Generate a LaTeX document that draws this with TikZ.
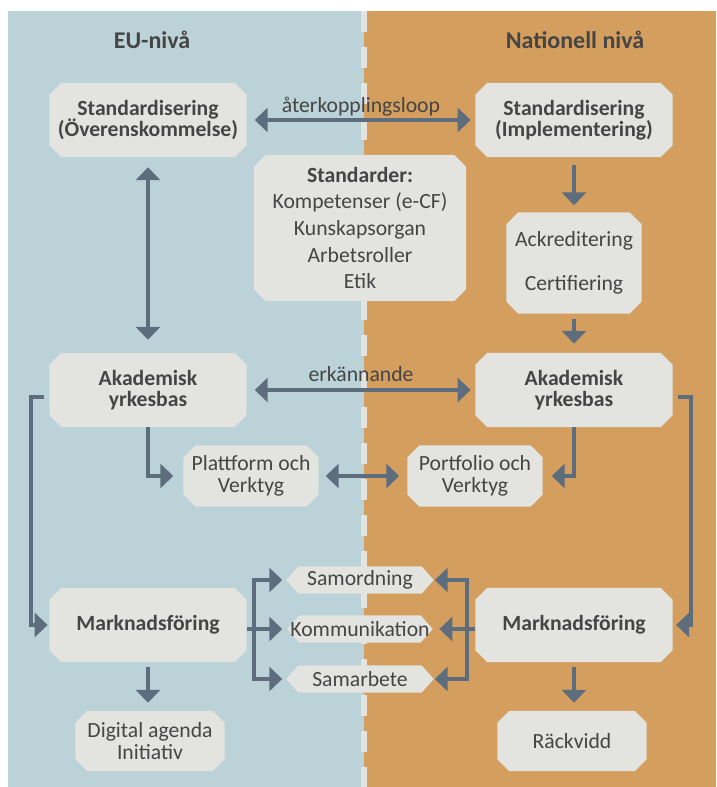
\documentclass[tikz,border=0pt]{standalone}
\usepackage{fontspec}
\setmainfont{Carlito}
\usetikzlibrary{arrows.meta,backgrounds}
\definecolor{eublue}{HTML}{BBD2D8}
\definecolor{natorange}{HTML}{D49E5F}
\definecolor{boxgray}{HTML}{E3E3DF}
\definecolor{arrowgray}{HTML}{5D6D7D}
\definecolor{txtgray}{HTML}{454545}
\begin{document}
\begin{tikzpicture}[x=0.03cm,y=-0.03cm,
 box/.style={rectangle,text=txtgray,align=center,inner sep=0pt,minimum width=5.91cm,minimum height=2.22cm,
   font=\fontsize{18.5}{18.3}\selectfont},
 bbox/.style={box,font=\fontsize{18.5}{18.3}\selectfont\bfseries},
 smallbox/.style={box,minimum width=4.05cm,minimum height=1.83cm},
 hex/.style={box,minimum width=4.41cm,minimum height=0.8cm},
 title/.style={anchor=base,text=txtgray,font=\fontsize{20.5}{24}\selectfont\bfseries},
 lbl/.style={anchor=base,text=txtgray,inner sep=0pt,font=\fontsize{18.5}{22}\selectfont},
 arr/.style={draw=arrowgray,line width=0.12cm,-{Triangle[length=0.39cm,width=0.72cm]}},
 darr/.style={arr,{Triangle[length=0.39cm,width=0.72cm]}-{Triangle[length=0.39cm,width=0.72cm]}},
 divider/.style={draw=boxgray,line width=0.18cm,dash pattern=on 0.63cm off 0.45cm}]
 \useasboundingbox (0,0) rectangle (716,787);
 \node[title] (eu) at (152,49) {EU-nivå};
 \node[title] (nat) at (575,49) {Nationell nivå};
 %
 \node[bbox] (std1) at (148,120) {Standardisering\\(Överenskommelse)};
 \node[bbox] (std2) at (574,120) {Standardisering\\(Implementering)};
 \node[box,minimum width=6.36cm,minimum height=4.38cm,font=\fontsize{18.5}{22.8}\selectfont] (stds) at (360,228)
   {\textbf{Standarder:}\\Kompetenser (e-CF)\\Kunskapsorgan\\Arbetsroller\\Etik};
 \node[box,minimum width=4.05cm,minimum height=3.03cm,font=\fontsize{18.5}{37}\selectfont] (akr) at (574,263)
   {Ackreditering\\Certifiering};
 \node[bbox] (ak1) at (148,390) {Akademisk\\yrkesbas};
 \node[bbox] (ak2) at (574,390) {Akademisk\\yrkesbas};
 \node[smallbox] (plt) at (251,476) {Plattform och\\Verktyg};
 \node[smallbox] (pfl) at (475,476) {Portfolio och\\Verktyg};
 \node[hex] (sam) at (360,580) {Samordning};
 \node[hex,minimum width=4.35cm] (kom) at (360,629) {Kommunikation};
 \node[hex] (smb) at (360,679) {Samarbete};
 \node[bbox] (mk1) at (148,625) {Marknadsföring};
 \node[bbox] (mk2) at (574,625) {Marknadsföring};
 \node[smallbox,minimum width=4.47cm,minimum height=1.8cm] (dig) at (150,741) {Digital agenda\\Initiativ};
 \node[smallbox,minimum width=4.47cm,minimum height=1.8cm] (rck) at (572,741) {Räckvidd};
 %
 \begin{pgfonlayer}{background}
  % two halves
  \fill[eublue] (8,11) rectangle (364,787);
  \fill[natorange] (364,11) rectangle (716,787);
  \draw[divider] (363.5,11) -- (363.5,787);
  % cut corners
  \foreach \n in {std1,std2,stds,akr,ak1,ak2,plt,pfl,mk1,mk2,dig,rck}
   \fill[boxgray] ([xshift=0.36cm]\n.north west) -- ([xshift=-0.36cm]\n.north east)
     -- ([yshift=-0.36cm]\n.north east) -- ([yshift=0.36cm]\n.south east)
     -- ([xshift=-0.36cm]\n.south east) -- ([xshift=0.36cm]\n.south west)
     -- ([yshift=0.36cm]\n.south west) -- ([yshift=-0.36cm]\n.north west) -- cycle;
  \foreach \n in {sam,kom,smb}
   \fill[boxgray] ([xshift=0.36cm]\n.north west) -- ([xshift=-0.36cm]\n.north east) -- (\n.east)
     -- ([xshift=-0.36cm]\n.south east) -- ([xshift=0.36cm]\n.south west) -- (\n.west) -- cycle;
 \end{pgfonlayer}
 %
 \draw[darr,shorten <=0.24cm,shorten >=0.14cm] (std1) -- (std2)
   node[lbl,midway,yshift=0.21cm] (fbl) {återkopplingsloop};
 \draw[darr,shorten <=0.3cm,shorten >=0.39cm] (std1) -- (ak1);
 \draw[arr,shorten <=0.24cm,shorten >=0.21cm] (std2) -- (akr);
 \draw[arr,shorten <=0.15cm,shorten >=0.27cm] (akr) -- (ak2);
 \draw[darr,shorten <=0.24cm,shorten >=0.14cm] (ak1) -- (ak2)
   node[lbl,midway,yshift=0.27cm] (erk) {erkännande};
 \draw[arr,shorten >=0.3cm] (ak1) |- (plt);
 \draw[arr,shorten >=0.27cm] (ak2) |- (pfl);
 \draw[darr,shorten <=0.21cm,shorten >=0.24cm] (plt) -- (pfl);
 % side loops
 \draw[arr,shorten >=0.05cm] ([xshift=-0.15cm,yshift=-0.21cm]ak1.west) -- ++(-13,0) |- (mk1.west);
 \draw[arr,shorten >=0.1cm] ([xshift=0.15cm,yshift=-0.21cm]ak2.east) -- ++(13,0) |- (mk2.east);
 % brackets
 \coordinate (lb) at (254,629);
 \coordinate (rb) at (467,629);
 \draw[arr,shorten >=0.15cm] (mk1.east |- kom) -- (kom.west);
 \draw[arr,shorten >=0.12cm] (lb) |- (sam.west);
 \draw[arr,shorten >=0.12cm] (lb) |- (smb.west);
 \draw[arr,shorten >=0.2cm] (mk2.west |- kom) -- (kom.east);
 \draw[arr,shorten >=0.03cm] (rb) |- (sam.east);
 \draw[arr,shorten >=0.03cm] (rb) |- (smb.east);
 %
 \draw[arr,shorten <=0.15cm,shorten >=0.24cm] (mk1) -- (mk1 |- dig.north);
 \draw[arr,shorten <=0.15cm,shorten >=0.24cm] (mk2) -- (mk2 |- rck.north);
\end{tikzpicture}
\end{document}
